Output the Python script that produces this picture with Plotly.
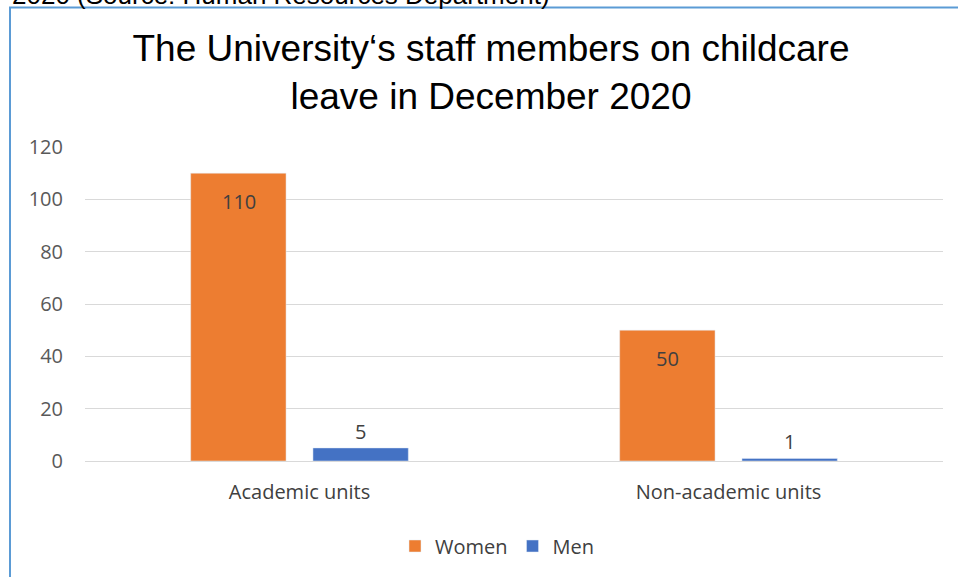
import plotly.graph_objects as go

categories = ["Academic units", "Non-academic units"]
women = [110, 50]
men = [5, 1]
y_ticks = [0, 20, 40, 60, 80, 100, 120]

W, H = 958, 577
L, R, T, B = 85, 15, 147, 116
pw, ph = W - L - R, H - T - B

def px(x):
    return (x - L) / pw

def py(y):
    return (H - B - y) / ph

LABEL_FONT = dict(family="Open Sans", size=20, color="#404040")

fig = go.Figure()
fig.add_trace(go.Bar(
    x=categories, y=women, name="Women", marker_color="#ED7D31",
    cliponaxis=False,
))
fig.add_trace(go.Bar(
    x=categories, y=men, name="Men", marker_color="#4472C4",
    text=[str(v) for v in men], textposition="outside",
    textfont=LABEL_FONT,
    cliponaxis=False,
))

# value labels for Women, placed inside the top of each bar
for cat, v in zip(categories, women):
    fig.add_annotation(x=cat, y=v, xref="x", yref="y", text=str(v), showarrow=False,
                       xshift=-61, yshift=-28, yanchor="middle", font=LABEL_FONT)

fig.update_layout(
    width=W, height=H,
    margin=dict(l=L, r=R, t=T, b=B),
    paper_bgcolor="white", plot_bgcolor="white",
    barmode="group", bargap=0.43, bargroupgap=0.22,
    title=dict(
        text="The University‘s staff members on childcare<br>leave in December 2020",
        x=491 / W, xanchor="center", y=1 - 61 / H, yanchor="middle",
        font=dict(family="Liberation Sans", size=37, color="#000000"),
    ),
    font=dict(family="Open Sans", size=20, color="#595959"),
    xaxis=dict(showgrid=False, showline=False, ticks="", ticklabelstandoff=17,
               tickfont=dict(size=20, color="#404040")),
    yaxis=dict(range=[0, 120], tickvals=y_ticks, showgrid=True, gridcolor="#D9D9D9",
               gridwidth=1, zeroline=True, zerolinecolor="#D9D9D9", zerolinewidth=1,
               showline=False, ticks="", ticklabelstandoff=21,
               tickfont=dict(size=20, color="#595959")),
    legend=dict(orientation="h", x=px(497), xanchor="center", y=py(546), yanchor="middle",
                font=dict(size=20, color="#404040"), traceorder="normal",
                itemwidth=30),
    showlegend=True,
)

# chart frame border
fig.add_shape(type="rect", xref="paper", yref="paper",
              x0=px(10), x1=px(970), y0=py(590), y1=py(7.5),
              line=dict(color="#5B9BD5", width=2), fillcolor="rgba(0,0,0,0)", layer="below")

# cut-off caption text at the very top
fig.add_annotation(text="2020 (Source: Human Resources Department)", xref="paper", yref="paper",
                   x=px(10), xanchor="left", y=py(-5), yanchor="middle", showarrow=False,
                   font=dict(family="Liberation Sans", size=26, color="#000000"))

fig.write_html("out.html", config={"displayModeBar": False},
               post_script="document.body.style.margin='0px';document.body.style.overflow='hidden';")
